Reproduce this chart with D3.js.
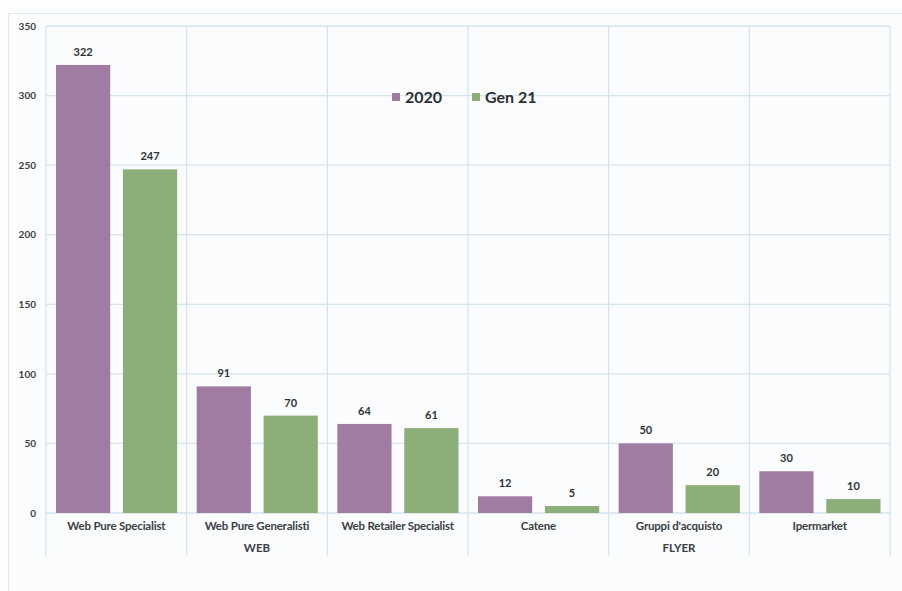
<!DOCTYPE html>
<html><head><meta charset="utf-8">
<script src="https://cdn.jsdelivr.net/npm/d3@7"></script>
<style>body{margin:0;background:#fff}svg{display:block}</style>
</head><body>
<svg id="c" width="902" height="591"></svg>
<script>
const categories = ["Web Pure Specialist","Web Pure Generalisti","Web Retailer Specialist","Catene","Gruppi d'acquisto","Ipermarket"];
const groups = [{name:"WEB", from:0, to:2},{name:"FLYER", from:3, to:5}];
const series = ["2020","Gen 21"];
const values2020 = [322,91,64,12,50,30];
const valuesGen21 = [247,70,61,5,20,10];
const yTicks = [0,50,100,150,200,250,300,350];
const colors = ["#a07ca2","#8caf79"];

const svg = d3.select("#c");
svg.append("rect").attr("width",902).attr("height",591).attr("fill","#fdfdfe");
svg.append("rect").attr("x",8.5).attr("y",13.5).attr("width",900).attr("height",590)
  .attr("fill","#fbfcfe").attr("stroke","#dde9f0");

const L=46, R=890, T=26, B=513;
const x = d3.scaleBand().domain(categories).range([L,R]).paddingInner(0).paddingOuter(0);
const xi = d3.scaleBand().domain(series).range([10,x.bandwidth()-9.5]).paddingInner(0.19).paddingOuter(0);
const y = d3.scaleLinear().domain([0,350]).range([B,T]);

const grid = svg.append("g");
grid.selectAll("line.h").data(yTicks).join("line")
  .attr("x1",L).attr("x2",R).attr("y1",d=>y(d)).attr("y2",d=>y(d))
  .attr("stroke","#d5e5ee").attr("stroke-width",1.3);
const seps = categories.map(c=>x(c)).concat([R]);
grid.selectAll("line.v").data(seps).join("line")
  .attr("x1",d=>d).attr("x2",d=>d).attr("y1",T).attr("y2",556)
  .attr("stroke","#d5e5ee").attr("stroke-width",1.3);

const yAxis = d3.axisLeft(y).tickValues(yTicks).tickSize(0).tickPadding(10);
const ya = svg.append("g").attr("transform",`translate(${L},0)`).call(yAxis);
ya.select(".domain").remove();
ya.selectAll("text").attr("font-family","Lato").attr("font-weight","bold").attr("font-size",10).attr("fill","#3a3f44");

const data = categories.map((c,i)=>({cat:c, vals:[values2020[i],valuesGen21[i]]}));
const g = svg.append("g");
data.forEach(d=>{
  d.vals.forEach((v,j)=>{
    const bx = x(d.cat)+xi(series[j]);
    g.append("rect").attr("x",bx).attr("y",y(v)).attr("width",xi.bandwidth()).attr("height",y(0)-y(v)).attr("fill",colors[j]);
    g.append("text").attr("x",bx+xi.bandwidth()/2).attr("y",y(v)-9).attr("text-anchor","middle")
      .attr("font-family","Lato").attr("font-weight","bold").attr("font-size",11).attr("fill","#2f3337").text(v);
  });
});

const xAxis = d3.axisBottom(x).tickSize(0).tickPadding(9);
const xa = svg.append("g").attr("transform",`translate(0,${B})`).call(xAxis);
xa.select(".domain").remove();
xa.selectAll("text").attr("font-family","Lato").attr("font-weight","bold").attr("font-size",11.5).attr("fill","#3a3f44").attr("letter-spacing","-0.2");

svg.selectAll("text.grp").data(groups).join("text")
  .attr("x",d=>(x(categories[d.from])+x(categories[d.to])+x.bandwidth())/2)
  .attr("y",552).attr("text-anchor","middle")
  .attr("font-family","Lato").attr("font-weight","bold").attr("font-size",11.5).attr("fill","#3a3f44").text(d=>d.name);

const leg = svg.append("g").attr("transform","translate(392,97)");
const lx = [0,80];
series.forEach((s,i)=>{
  leg.append("rect").attr("x",lx[i]).attr("y",-4).attr("width",8).attr("height",8).attr("fill",colors[i]);
  leg.append("text").attr("x",lx[i]+13).attr("y",6).attr("font-family","Lato").attr("font-weight","bold")
    .attr("font-size",16).attr("fill","#2a2f33").text(s);
});
</script>
</body></html>
